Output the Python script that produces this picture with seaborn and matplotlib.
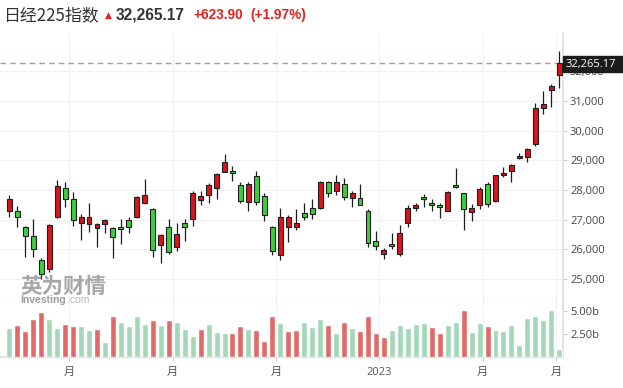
import matplotlib
matplotlib.use("Agg")
import matplotlib.pyplot as plt
import seaborn as sns
import numpy as np
import pandas as pd

# ---------------- data (weekly Nikkei 225) ----------------
opens = [27300, 27290, 26741, 26448, 25640, 25327, 27077, 28054, 27684, 26875,
         26842, 26707, 26842, 26707, 26741, 26987, 27098, 27549, 27347, 26155,
         26741, 26088, 26875, 27010, 27660, 27818, 28054, 28613, 28636, 28155,
         27583, 28468, 27785, 26761, 25798, 26761, 26761, 27212, 27381, 27401,
         28266, 27973, 28189, 27737, 27717, 27300, 26269, 25832, 26178, 25832,
         26875, 27381, 27761, 27549, 27481, 27300, 28155, 27886, 27246, 27481,
         28189, 27636, 28492, 28626, 29064, 29098, 29535, 30747, 31374, 31859]
highs = [27828, 27468, 26785, 27010, 25697, 26852, 28333, 28266, 27940, 27178,
         27549, 26875, 27030, 26741, 27030, 27098, 27780, 28357, 27381, 26505,
         27030, 26875, 27030, 27963, 27973, 28222, 28559, 29209, 28805, 28266,
         28266, 28626, 27886, 26790, 27381, 27145, 27347, 27549, 27684, 28310,
         28310, 28492, 28391, 27953, 28189, 27347, 26606, 26034, 26539, 26808,
         27481, 27549, 27852, 27704, 27549, 27973, 28727, 27900, 27515, 28108,
         28256, 28510, 28761, 28862, 29253, 29401, 30916, 31320, 31556, 32667]
lows = [27098, 26741, 25751, 25751, 24990, 25246, 27050, 27414, 26785, 26313,
        26593, 26067, 26559, 25697, 26178, 26559, 27044, 27525, 25731, 25529,
        25842, 25943, 26269, 26785, 27502, 27549, 27704, 28590, 28290, 27569,
        27280, 27502, 26943, 25798, 25640, 26246, 26650, 26987, 27030, 27347,
        27751, 27838, 27660, 27414, 27481, 26088, 25977, 25663, 26000, 25764,
        26761, 27300, 27414, 27280, 27044, 27280, 28070, 26650, 26943, 27367,
        27414, 27603, 28424, 28256, 29030, 28929, 29478, 30556, 30781, 31421]
closes = [27684, 27098, 26458, 26000, 25158, 26808, 28131, 27684, 26987, 27077,
          27077, 26842, 26987, 26424, 26673, 26761, 27751, 27818, 25977, 26472,
          25909, 26505, 26761, 27886, 27795, 28155, 28525, 28929, 28559, 27636,
          28189, 27583, 27145, 25933, 27098, 27077, 26875, 27098, 27199, 28266,
          27886, 28256, 27771, 27886, 27502, 26222, 26101, 25966, 26101, 26539,
          27381, 27481, 27684, 27481, 27414, 27929, 28088, 27347, 27381, 28020,
          27515, 28492, 28559, 28828, 29141, 29377, 30768, 30882, 31488, 32265.17]
# weekly volume, billions of shares
volumes = [3.21, 3.47, 2.88, 4.19, 4.92, 4.19, 3.21, 3.64, 3.36, 3.36,
           2.99, 3.10, 1.67, 4.45, 3.86, 3.36, 4.45, 3.64, 4.02, 3.47,
           4.08, 3.86, 3.10, 2.33, 3.10, 3.64, 2.77, 2.66, 2.66, 3.36,
           3.10, 2.99, 1.78, 4.45, 3.75, 2.88, 2.99, 3.86, 3.32, 4.19,
           3.53, 2.66, 3.86, 3.21, 2.88, 4.45, 2.66, 2.22, 2.99, 3.53,
           3.21, 3.64, 3.75, 3.32, 2.66, 3.53, 3.86, 5.18, 2.77, 3.75,
           3.42, 2.99, 2.88, 3.53, 1.35, 4.30, 4.52, 4.08, 5.18, 0.91]
vol_dir = list("grrrrggrrggrgrggggrgrgggrgggrrgrrrgrrgggrgrgrrrrgggggrrggrggrggggggggg")
tick_labels = ["月", "月", "月", "2023", "月", "月"]
price_ticks = [25000, 26000, 27000, 28000, 29000, 30000, 31000, 32000]
vol_ticks = [2.5, 5.0]
vol_tick_labels = ["2.50b", "5.00b"]
last_price = 32265.17
title_name = "日经225指数"
title_price = "32,265.17"
title_change = "+623.90"
title_pct = "(+1.97%)"

# ---------------- styling ----------------
sns.set_theme(style="white")
plt.rcParams["font.family"] = ["Open Sans", "Noto Sans CJK SC", "DejaVu Sans"]

UP_C = "#d8141c"
DN_C = "#3ccf3c"
VOL_UP = "#a2d8b6"
VOL_DN = "#e06a69"
GRID = "#f1f1f1"
AX_LINE = "#dedede"
TXT = "#444444"

n = len(opens)
idx = np.arange(n)
df = pd.DataFrame({"i": idx, "open": opens, "high": highs, "low": lows,
                   "close": closes, "vol": volumes,
                   "vdir": ["up" if d == "g" else "down" for d in vol_dir]})

W, H = 623, 388
fig = plt.figure(figsize=(W / 100, H / 100), dpi=100)

x_left, x_right = 0, 563
top_px, sep_px, base_px = 33, 298, 357
ax = fig.add_axes([x_left / W, 1 - sep_px / H, (x_right - x_left) / W, (sep_px - top_px) / H])
axv = fig.add_axes([x_left / W, 1 - base_px / H, (x_right - x_left) / W, (base_px - sep_px) / H])

xlim = (-1.17, 69.47)
tick_pos = [7.5, 20.5, 33.5, 46.4, 59.4, 68.6]

# ---------------- candles ----------------
is_up = df["close"] >= df["open"]
cols = np.where(is_up, UP_C, DN_C)
ax.vlines(df["i"], df["low"], df["high"], color="#1e1e1e", lw=0.9, zorder=2)
body_lo = np.minimum(df["open"], df["close"])
body_h = np.maximum(np.abs(df["close"] - df["open"]), 18)
ax.bar(df["i"], body_h, bottom=body_lo, width=0.62, color=cols,
       edgecolor="#1e1e1e", linewidth=0.8, zorder=3)

ax.axhline(last_price, color="#d48a8a", lw=1.0, dashes=(4, 3), zorder=1.5)

ax.set_xlim(*xlim)
ax.set_ylim(24360, 33283)
ax.yaxis.tick_right()
ax.set_yticks(price_ticks)
ax.set_yticklabels([f"{v:,}" for v in price_ticks])
ax.tick_params(axis="y", which="both", right=True, length=3, width=0.8,
               color="#cccccc", labelsize=8, labelcolor=TXT, pad=2)
ax.set_xticks(tick_pos)
ax.tick_params(axis="x", length=0, labelbottom=False)
ax.grid(True, color=GRID, lw=0.8)
ax.set_axisbelow(True)
for s in ["top", "left"]:
    ax.spines[s].set_visible(False)
ax.spines["right"].set_color(AX_LINE)
ax.spines["bottom"].set_color("#ececec")
ax.spines["bottom"].set_linewidth(0.8)
ax.set_xlabel("")
ax.set_ylabel("")

# ---------------- volume ----------------
sns.barplot(data=df, x="i", y="vol", hue="vdir",
            palette={"up": VOL_UP, "down": VOL_DN}, dodge=False,
            legend=False, width=0.75, saturation=1, ax=axv, zorder=3)
axv.set_xlim(*xlim)
axv.set_ylim(0, 6.45)
axv.yaxis.tick_right()
axv.set_yticks(vol_ticks)
axv.set_yticklabels(vol_tick_labels)
axv.tick_params(axis="y", right=True, left=False, length=3, width=0.8,
                color="#cccccc", labelsize=8, labelcolor=TXT, pad=2)
axv.set_xticks(tick_pos)
axv.set_xticklabels(tick_labels)
axv.tick_params(axis="x", bottom=True, length=3, width=0.8, color="#cccccc",
                labelsize=8, labelcolor="#555555", pad=4)
axv.grid(True, axis="x", color=GRID, lw=0.8)
axv.set_axisbelow(True)
for s in ["top", "left"]:
    axv.spines[s].set_visible(False)
axv.spines["right"].set_color(AX_LINE)
axv.spines["bottom"].set_color(AX_LINE)
axv.set_xlabel("")
axv.set_ylabel("")

# ---------------- last-price tag ----------------
tag_y = 1 - 64 / H
fig.patches.append(plt.Rectangle((x_right / W, 1 - 72 / H), (W - x_right) / W, 16 / H,
                                 transform=fig.transFigure, color="#1c1c1c", zorder=10))
fig.text(566 / W, tag_y, f"{last_price:,.2f}", color="white", fontsize=8,
         va="center", ha="left", zorder=11)

# ---------------- header ----------------
ty = 1 - 15 / H
fig.text(3 / W, ty, title_name, fontsize=12.2, color="#333333", va="center", ha="left",
         family=["Noto Sans CJK SC", "DejaVu Sans"])
fig.text(105 / W, ty, "▲", fontsize=6.5, color="#e0231c", va="center", ha="left",
         family=["DejaVu Sans"])
fig.text(116 / W, ty, title_price, fontsize=11.2, fontweight="bold", color="#333333",
         va="center", ha="left", family=["Liberation Sans"])
fig.text(193 / W, ty, title_change, fontsize=9.8, fontweight="bold", color="#e0231c",
         va="center", ha="left", family=["Liberation Sans"])
fig.text(250 / W, ty, title_pct, fontsize=9.8, fontweight="bold", color="#e0231c",
         va="center", ha="left", family=["Liberation Sans"])

# ---------------- watermark ----------------
fig.text(20 / W, 1 - 286 / H, "英为财情", fontsize=15.5, fontweight="bold", color="#8a8a8a",
         alpha=0.75, va="center", ha="left", family=["Noto Sans CJK SC"], zorder=5)
fig.text(20 / W, 1 - 300 / H, "Investing", fontsize=7.5, fontweight="bold", color="#8a8a8a",
         alpha=0.85, va="center", ha="left", family=["Liberation Sans"], zorder=5)
fig.text(67 / W, 1 - 300 / H, ".com", fontsize=7.5, color="#aaaaaa",
         alpha=0.85, va="center", ha="left", family=["Liberation Sans"], zorder=5)

fig.savefig("out.png", dpi=100, facecolor="white")
